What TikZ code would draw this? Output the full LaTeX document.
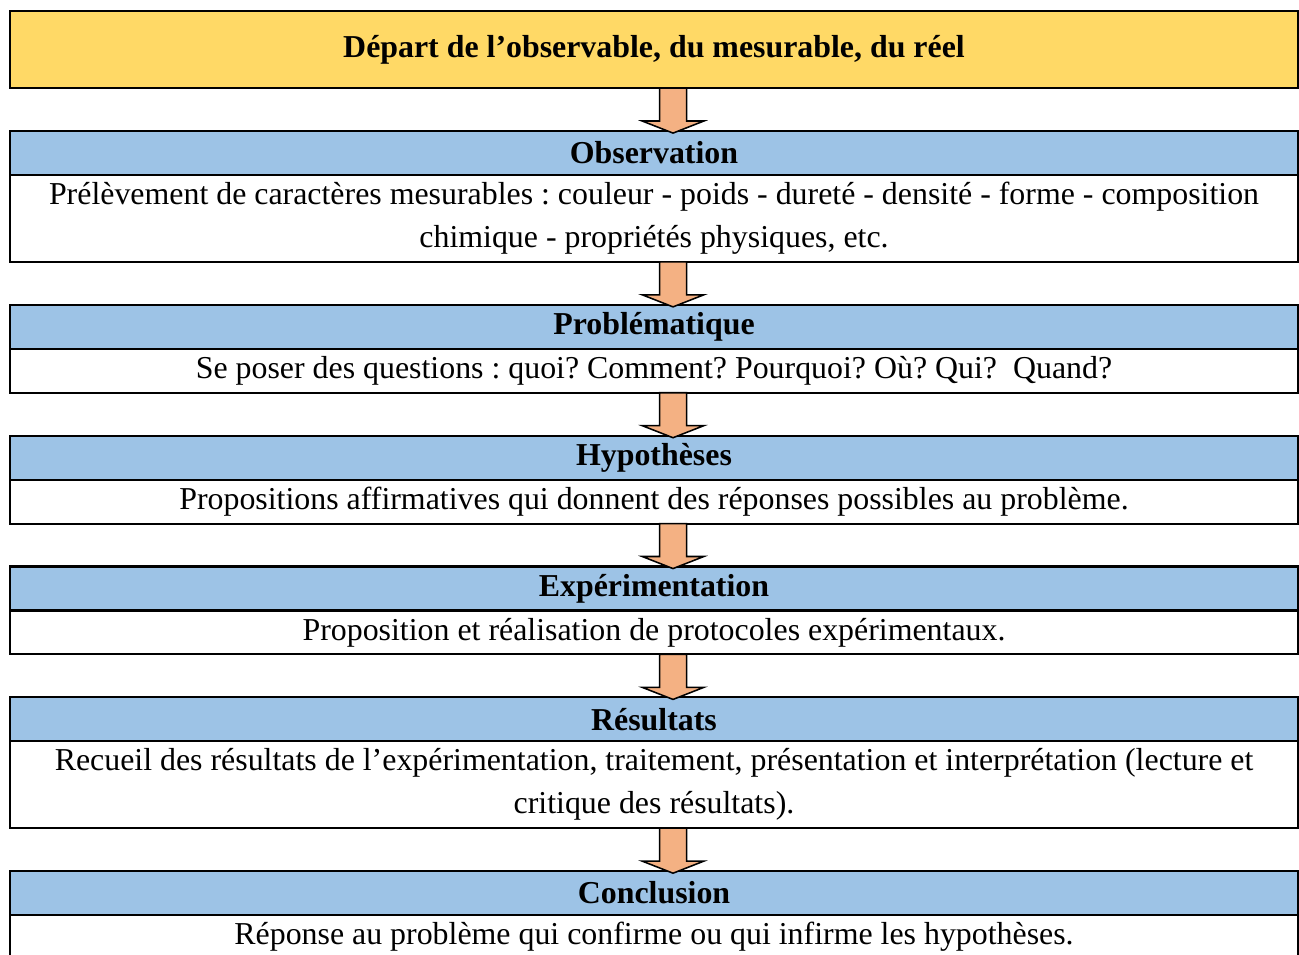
\documentclass[tikz,border=0pt]{standalone}
\usepackage{fontspec}
\setmainfont{Liberation Serif}
\usepackage{tikz}
\usetikzlibrary{positioning, calc}

\definecolor{titleyellow}{HTML}{FFD966}
\definecolor{headblue}{HTML}{9DC3E6}
\definecolor{arroworange}{HTML}{F4B183}

\tikzset{
  stagebox/.style={draw, line width=0.8pt, minimum width=501pt, inner sep=0pt, outer sep=0pt,
                   align=center, font=\fontsize{12.4}{16.7}\selectfont},
  titlebox/.style={stagebox, fill=titleyellow, minimum height=30pt, font=\fontsize{12.4}{16.7}\selectfont\bfseries},
  headbox/.style={stagebox, fill=headblue, minimum height=17.1pt, font=\fontsize{12.4}{16.7}\selectfont\bfseries},
  textbox/.style={stagebox, fill=white, minimum height=17.1pt},
  blockarrow/.style={draw, line width=0.6pt, fill=arroworange, line join=miter},
}

% block arrow from the bottom of #1 to the top of #2
\newcommand{\stagearrow}[2]{%
  \draw[blockarrow] let \p1=(#1.south), \p2=(#2.north) in
    (\x1+2.15pt,\y1) -- (\x1+12.65pt,\y1) -- (\x1+12.65pt,\y2+3.9pt) -- (\x1+19.4pt,\y2+3.9pt)
    -- (\x1+7.4pt,\y2-0.8pt) -- (\x1-4.6pt,\y2+3.9pt) -- (\x1+2.15pt,\y2+3.9pt) -- cycle;}

\frenchspacing

\begin{document}
\begin{tikzpicture}[x=0.389pt, y=-0.389pt, node distance=16.7pt]

\def \xmid{654}
\def \ytop{11}

\useasboundingbox (0,0) rectangle (1299,955);

% title
\node[titlebox, anchor=north] (depart) at (\xmid, \ytop) {D\'epart de l’observable, du mesurable, du r\'eel};

% stages from top to bottom
\node[headbox, below=of depart] (obs)  {Observation};
\node[textbox, below=0pt of obs, minimum height=33.8pt] (obs-txt)
  {Pr\'el\`evement de caract\`eres mesurables : couleur - poids - duret\'e - densit\'e - forme - composition\\
   chimique - propri\'et\'es physiques, etc.};

\node[headbox, below=of obs-txt] (prob) {Probl\'ematique};
\node[textbox, below=0pt of prob] (prob-txt)
  {Se poser des questions : quoi? Comment? Pourquoi? O\`u? Qui?\ \ Quand?};

\node[headbox, below=of prob-txt] (hyp) {Hypoth\`eses};
\node[textbox, below=0pt of hyp] (hyp-txt)
  {Propositions affirmatives qui donnent des r\'eponses possibles au probl\`eme.};

\node[headbox, below=of hyp-txt] (exp) {Exp\'erimentation};
\node[textbox, below=0pt of exp] (exp-txt)
  {Proposition et r\'ealisation de protocoles exp\'erimentaux.};

\node[headbox, below=of exp-txt] (res) {R\'esultats};
\node[textbox, below=0pt of res, minimum height=33.8pt] (res-txt)
  {Recueil des r\'esultats de l’exp\'erimentation, traitement, pr\'esentation et interpr\'etation (lecture et\\
   critique des r\'esultats).};

\node[headbox, below=of res-txt] (concl) {Conclusion};
\node[textbox, below=0pt of concl] (concl-txt)
  {R\'eponse au probl\`eme qui confirme ou qui infirme les hypoth\`eses.};

% arrows from top to bottom
\stagearrow{depart}{obs}
\stagearrow{obs-txt}{prob}
\stagearrow{prob-txt}{hyp}
\stagearrow{hyp-txt}{exp}
\stagearrow{exp-txt}{res}
\stagearrow{res-txt}{concl}

\end{tikzpicture}
\end{document}
